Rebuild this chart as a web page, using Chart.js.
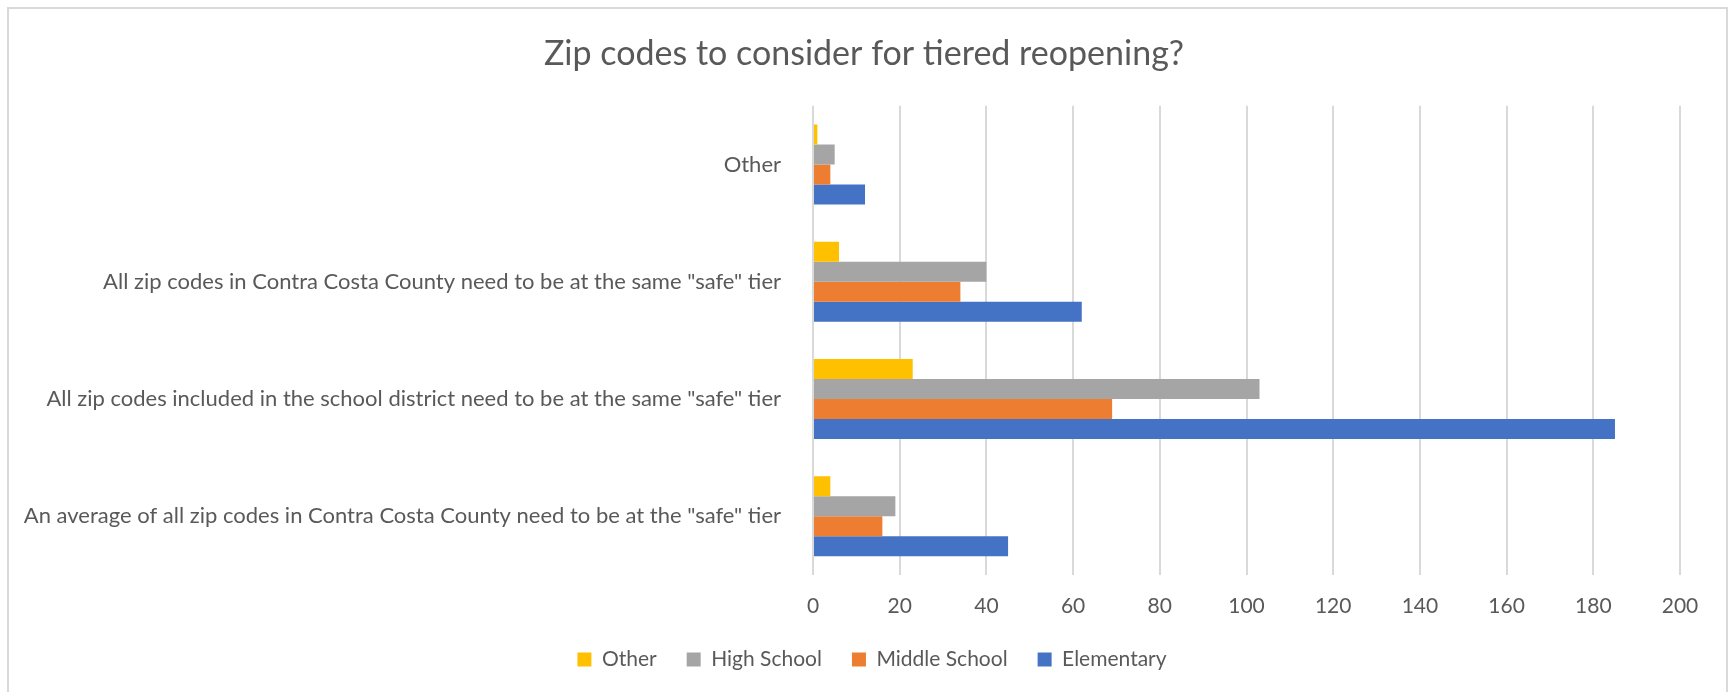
<!DOCTYPE html>
<html>
<head>
<meta charset="utf-8">
<script src="https://cdn.jsdelivr.net/npm/chart.js@4"></script>
<style>
    html, body { margin: 0; padding: 0; background: #ffffff; }
    #wrap { position: relative; width: 1728px; height: 692px; }
</style>
</head>
<body>
<div id="wrap"><canvas id="zipChart"></canvas></div>
<script>
// Kategoriler (yukarıdan aşağıya)
const categories = [
    'Other',
    'All zip codes in Contra Costa County need to be at the same "safe" tier',
    'All zip codes included in the school district need to be at the same "safe" tier',
    'An average of all zip codes in Contra Costa County need to be at the "safe" tier'
];

const otherValues = [1, 6, 23, 4];
const highSchoolValues = [5, 40, 103, 19];
const middleSchoolValues = [4, 34, 69, 16];
const elementaryValues = [12, 62, 185, 45];

const xTicks = [0, 20, 40, 60, 80, 100, 120, 140, 160, 180, 200];

const TEXT_COLOR = '#595959';
const GRID_COLOR = '#d9d9d9';
const FONT = 'Lato, "Open Sans", sans-serif';

// Grafik çerçevesi + başlık/lejant ortalaması (tüm tuvale göre)
const frameBorder = {
    id: 'frameBorder',
    afterLayout(chart) {
        if (chart.titleBlock) { chart.titleBlock.left += 24; chart.titleBlock.right += 24; }
        if (chart.legend) { chart.legend.left += 32; chart.legend.right += 32; }
    },
    beforeDraw(chart) {
        const ctx = chart.ctx;
        ctx.save();
        ctx.strokeStyle = GRID_COLOR;
        ctx.lineWidth = 2;
        ctx.strokeRect(8, 8, 1719, 700);
        ctx.restore();
    }
};

new Chart(document.getElementById('zipChart'), {
    type: 'bar',
    data: {
        labels: categories,
        datasets: [
            { label: 'Other', data: otherValues, backgroundColor: '#ffc000' },
            { label: 'High School', data: highSchoolValues, backgroundColor: '#a5a5a5' },
            { label: 'Middle School', data: middleSchoolValues, backgroundColor: '#ed7d31' },
            { label: 'Elementary', data: elementaryValues, backgroundColor: '#4472c4' }
        ]
    },
    options: {
        indexAxis: 'y',
        responsive: true,
        maintainAspectRatio: false,
        animation: false,
        datasets: {
            bar: { barPercentage: 1.0, categoryPercentage: 0.682 }
        },
        layout: { padding: { left: 0, right: 48, top: 0, bottom: 12 } },
        plugins: {
            title: {
                display: true,
                text: 'Zip codes to consider for tiered reopening?',
                color: TEXT_COLOR,
                font: { family: FONT, size: 34, weight: 'normal' },
                padding: { top: 34, bottom: 31 }
            },
            legend: {
                position: 'bottom',
                labels: {
                    color: TEXT_COLOR,
                    font: { family: FONT, size: 21 },
                    boxWidth: 14,
                    boxHeight: 14,
                    padding: 30
                }
            },
            tooltip: { enabled: false }
        },
        scales: {
            x: {
                min: 0,
                max: 200,
                afterBuildTicks: scale => { scale.ticks = xTicks.map(v => ({ value: v })); },
                afterFit: scale => { scale.height = 44; },
                ticks: { color: TEXT_COLOR, font: { family: FONT, size: 21 }, padding: 19 },
                grid: { color: GRID_COLOR, lineWidth: 2, drawTicks: false },
                border: { display: false }
            },
            y: {
                afterFit: scale => { scale.width = 813; },
                ticks: { color: TEXT_COLOR, font: { family: FONT, size: 22 }, padding: 24, autoSkip: false },
                grid: { display: false },
                border: { display: false }
            }
        }
    },
    plugins: [frameBorder]
});
</script>
</body>
</html>
